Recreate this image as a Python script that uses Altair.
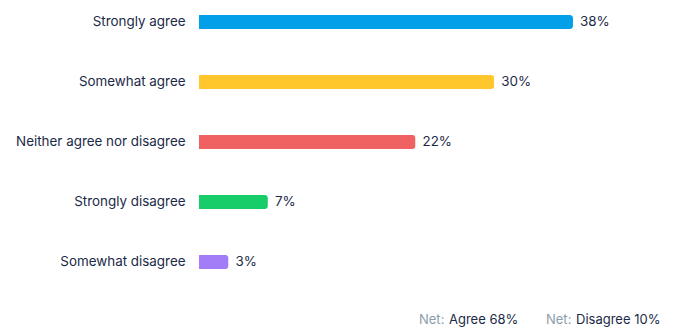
import altair as alt
import pandas as pd

categories = ["Strongly agree", "Somewhat agree", "Neither agree nor disagree", "Strongly disagree", "Somewhat disagree"]
values = [38, 30, 22, 7, 3]
colors = ["#039fe8", "#ffc72c", "#f06161", "#17cd6a", "#a37cf8"]
net_prefix = ["Net:", "Net:"]
net_labels = ["Agree 68%", "Disagree 10%"]

df = pd.DataFrame({
    "cat": categories,
    "val": values,
    "lab": [f"{v}%" for v in values],
    "color": colors,
})

FONT = "Inter"
FS = 13.4
FFS = 13
DARK = "#1b2a47"

y = alt.Y("cat:N", sort=categories,
          scale=alt.Scale(paddingInner=0.7667, paddingOuter=0.25),
          axis=alt.Axis(title=None, domain=False, ticks=False, grid=False, labelPadding=14,
                        labelFont=FONT, labelFontSize=FS, labelColor=DARK,
                        labelLimit=300))
x = alt.X("val:Q", scale=alt.Scale(domain=[0, 48.67], nice=False, zero=True),
          axis=None)

bars = alt.Chart(df).mark_bar(cornerRadiusEnd=3).encode(
    x=x, y=y, color=alt.Color("color:N", scale=None)
)
labels = alt.Chart(df).mark_text(align="left", baseline="middle", dx=7,
                                 font=FONT, fontSize=FS, color=DARK).encode(
    x=x, y=alt.Y("cat:N", sort=categories), text="lab:N"
)

foot_df = pd.DataFrame({"p": net_prefix, "l": net_labels, "i": [0, 1]})
pre = alt.Chart(foot_df).transform_filter("datum.i == 0").mark_text(
    align="left", baseline="middle", font=FONT, fontSize=FFS, color="#8d9cab"
).encode(x=alt.value(220), y=alt.value(320), text="p:N")
lab0 = alt.Chart(foot_df).transform_filter("datum.i == 0").mark_text(
    align="left", baseline="middle", font=FONT, fontSize=FFS, color=DARK
).encode(x=alt.value(250), y=alt.value(320), text="l:N")
pre1 = alt.Chart(foot_df).transform_filter("datum.i == 1").mark_text(
    align="left", baseline="middle", font=FONT, fontSize=FFS, color="#8d9cab"
).encode(x=alt.value(347), y=alt.value(320), text="p:N")
lab1 = alt.Chart(foot_df).transform_filter("datum.i == 1").mark_text(
    align="left", baseline="middle", font=FONT, fontSize=FFS, color=DARK
).encode(x=alt.value(377), y=alt.value(320), text="l:N")

chart = alt.layer(bars, labels, pre, lab0, pre1, lab1).properties(
    width=479, height=284,
    autosize=alt.AutoSizeParams(type="none"),
    padding={"left": 199, "top": 0, "right": 0, "bottom": 52},
).configure(background="white").configure_view(stroke=None)

chart.save("out.html", embed_options={"renderer": "svg", "actions": False})
